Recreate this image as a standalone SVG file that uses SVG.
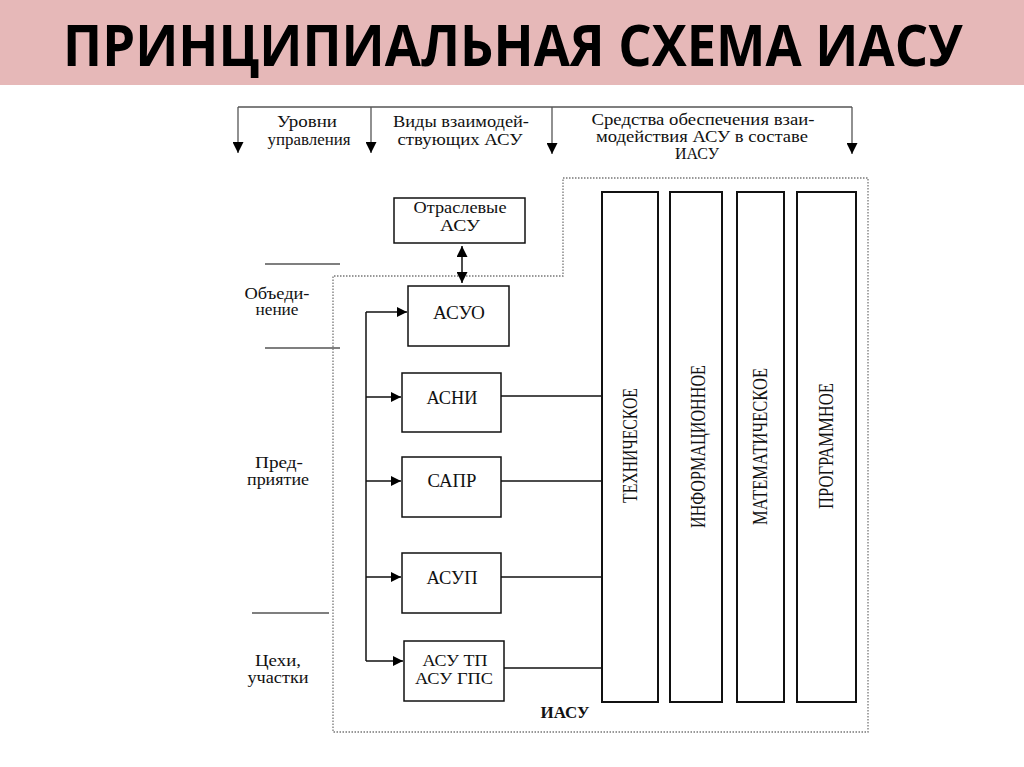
<svg xmlns="http://www.w3.org/2000/svg" width="1024" height="767" viewBox="0 0 1024 767">
<defs>
<marker id="ah" viewBox="0 0 10 10" refX="10" refY="5" markerWidth="10" markerHeight="10" markerUnits="userSpaceOnUse" orient="auto-start-reverse"><path d="M0,0 L10,5 L0,10 z" fill="#000"/></marker>
<marker id="ahd" viewBox="0 0 10 10" refX="10" refY="5" markerWidth="11" markerHeight="11" markerUnits="userSpaceOnUse" orient="auto-start-reverse"><path d="M0,0 L10,5 L0,10 z" fill="#000"/></marker>
<style>
.t{font-family:"Liberation Serif","Times New Roman",serif;fill:#111;text-anchor:middle}
.s14{font-size:16px}
.s16{font-size:19px}
.s18{font-size:17.5px}
.sv{font-size:22px}
.box{fill:#fff;stroke:#111;stroke-width:1.5}
.bar{fill:#fff;stroke:#111;stroke-width:2}
.ln{fill:none;stroke:#111;stroke-width:1.5}
.gl{fill:none;stroke:#555;stroke-width:1.3}
.dot{fill:none;stroke:#777;stroke-width:1.3;stroke-dasharray:1.5 1.5}
</style>
</defs>
<rect x="0" y="0" width="1024" height="767" fill="#fff"/>
<g id="title">
<rect x="0" y="0" width="1024" height="85" fill="#e6b8b8"/>
<text transform="translate(513,66) scale(0.92,1)" font-family="'Open Sans','Liberation Sans',sans-serif" font-weight="bold" font-size="57" text-anchor="middle" textLength="978" lengthAdjust="spacingAndGlyphs" fill="#000">ПРИНЦИПИАЛЬНАЯ СХЕМА ИАСУ</text>
</g>
<g id="header">
<path class="gl" d="M238,107 H852"/>
<path class="gl" d="M238,107 V153" marker-end="url(#ahd)"/>
<path class="gl" d="M371,107 V153" marker-end="url(#ahd)"/>
<path class="gl" d="M552,107 V154" marker-end="url(#ahd)"/>
<path class="gl" d="M852,107 V154" marker-end="url(#ahd)"/>
<text class="t s14" x="307" y="127" textLength="60" lengthAdjust="spacingAndGlyphs">Уровни</text>
<text class="t s14" x="309" y="145" textLength="83" lengthAdjust="spacingAndGlyphs">управления</text>
<text class="t s14" x="461" y="127" textLength="136" lengthAdjust="spacingAndGlyphs">Виды взаимодей-</text>
<text class="t s14" x="460" y="145" textLength="125" lengthAdjust="spacingAndGlyphs">ствующих АСУ</text>
<text class="t s14" x="703" y="125" textLength="223" lengthAdjust="spacingAndGlyphs">Средства обеспечения взаи-</text>
<text class="t s14" x="702" y="142" textLength="212" lengthAdjust="spacingAndGlyphs">модействия АСУ в составе</text>
<text class="t s14" x="697" y="159" textLength="44" lengthAdjust="spacingAndGlyphs">ИАСУ</text>
</g>
<g id="levels">
<path class="gl" d="M265,264 H340 M265,348 H340 M252,613 H329"/>
<text class="t s14" x="277" y="299" textLength="65" lengthAdjust="spacingAndGlyphs">Объеди-</text>
<text class="t s14" x="277" y="315" textLength="43" lengthAdjust="spacingAndGlyphs">нение</text>
<text class="t s14" x="279" y="468" textLength="48" lengthAdjust="spacingAndGlyphs">Пред-</text>
<text class="t s14" x="278" y="485" textLength="62" lengthAdjust="spacingAndGlyphs">приятие</text>
<text class="t s14" x="278" y="666" textLength="46" lengthAdjust="spacingAndGlyphs">Цехи,</text>
<text class="t s14" x="278" y="683" textLength="61" lengthAdjust="spacingAndGlyphs">участки</text>
</g>
<g id="iasu-boundary">
<path class="dot" d="M563,178 H868 V732 H333 V276 H563 Z"/>
<text class="t s14" x="565" y="718" font-weight="bold" textLength="49" lengthAdjust="spacingAndGlyphs">ИАСУ</text>
</g>
<g id="connectors">
<path class="ln" d="M462,246 V283" marker-start="url(#ahd)" marker-end="url(#ahd)"/>
<path class="ln" d="M366,312 V661"/>
<path class="ln" d="M366,312 H407" marker-end="url(#ah)"/>
<path class="ln" d="M366,397 H401" marker-end="url(#ah)"/>
<path class="ln" d="M366,481 H401" marker-end="url(#ah)"/>
<path class="ln" d="M366,577 H401" marker-end="url(#ah)"/>
<path class="ln" d="M366,661 H403" marker-end="url(#ah)"/>
<path class="ln" d="M501,396 H602"/>
<path class="ln" d="M501,481 H602"/>
<path class="ln" d="M501,577 H602"/>
<path class="ln" d="M504,668 H602"/>
</g>
<g id="otraslevye">
<rect class="box" x="394" y="198" width="131" height="45"/>
<text class="t s14" x="460" y="213" textLength="93" lengthAdjust="spacingAndGlyphs">Отраслевые</text>
<text class="t s14" x="460" y="231" textLength="40" lengthAdjust="spacingAndGlyphs">АСУ</text>
</g>
<g id="asuo">
<rect class="box" x="408" y="286" width="101" height="60"/>
<text class="t s16" x="459" y="319" textLength="52" lengthAdjust="spacingAndGlyphs">АСУО</text>
</g>
<g id="asni">
<rect class="box" x="402" y="373" width="99" height="59"/>
<text class="t s16" x="452" y="404" textLength="51" lengthAdjust="spacingAndGlyphs">АСНИ</text>
</g>
<g id="sapr">
<rect class="box" x="402" y="457" width="99" height="60"/>
<text class="t s16" x="452" y="487" textLength="49" lengthAdjust="spacingAndGlyphs">САПР</text>
</g>
<g id="asup">
<rect class="box" x="402" y="553" width="99" height="60"/>
<text class="t s16" x="452" y="584" textLength="51" lengthAdjust="spacingAndGlyphs">АСУП</text>
</g>
<g id="asutp">
<rect class="box" x="404" y="641" width="100" height="60"/>
<text class="t s18" x="455" y="666" textLength="65" lengthAdjust="spacingAndGlyphs">АСУ ТП</text>
<text class="t s18" x="454" y="684" textLength="78" lengthAdjust="spacingAndGlyphs">АСУ ГПС</text>
</g>
<g id="tech">
<rect class="bar" x="602" y="192" width="56" height="510"/>
<text class="t sv" transform="translate(637,445.5) rotate(-90)" textLength="115" lengthAdjust="spacingAndGlyphs">ТЕХНИЧЕСКОЕ</text>
</g>
<g id="info">
<rect class="bar" x="670" y="192" width="52" height="510"/>
<text class="t sv" transform="translate(705,446.5) rotate(-90)" textLength="163" lengthAdjust="spacingAndGlyphs">ИНФОРМАЦИОННОЕ</text>
</g>
<g id="math">
<rect class="bar" x="737" y="192" width="47" height="510"/>
<text class="t sv" transform="translate(767,446.5) rotate(-90)" textLength="157" lengthAdjust="spacingAndGlyphs">МАТЕМАТИЧЕСКОЕ</text>
</g>
<g id="prog">
<rect class="bar" x="797" y="192" width="59" height="510"/>
<text class="t sv" transform="translate(833,446) rotate(-90)" textLength="126" lengthAdjust="spacingAndGlyphs">ПРОГРАММНОЕ</text>
</g>
</svg>
